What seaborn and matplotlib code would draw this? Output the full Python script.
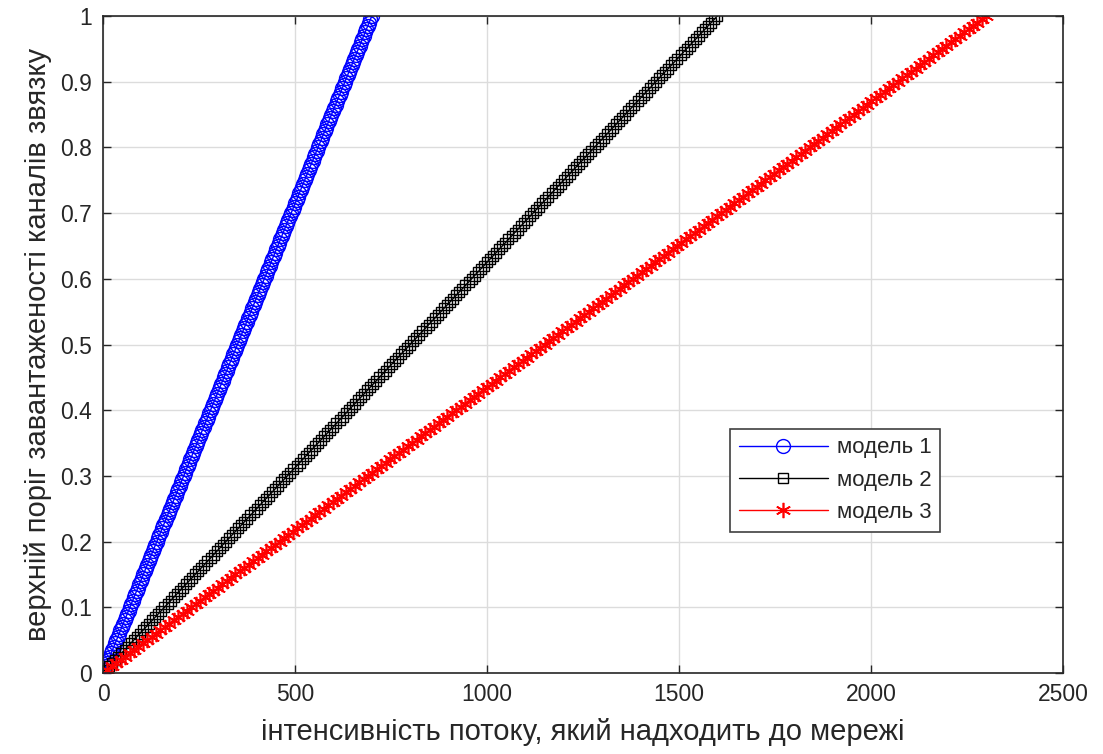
import matplotlib
matplotlib.use("Agg")
import matplotlib.pyplot as plt
import seaborn as sns
import pandas as pd

# ---- data ----
load = [
    0.005, 0.01, 0.015, 0.02, 0.025, 0.03, 0.035, 0.04, 0.045, 0.05,
    0.055, 0.06, 0.065, 0.07, 0.075, 0.08, 0.085, 0.09, 0.095, 0.1,
    0.105, 0.11, 0.115, 0.12, 0.125, 0.13, 0.135, 0.14, 0.145, 0.15,
    0.155, 0.16, 0.165, 0.17, 0.175, 0.18, 0.185, 0.19, 0.195, 0.2,
    0.205, 0.21, 0.215, 0.22, 0.225, 0.23, 0.235, 0.24, 0.245, 0.25,
    0.255, 0.26, 0.265, 0.27, 0.275, 0.28, 0.285, 0.29, 0.295, 0.3,
    0.305, 0.31, 0.315, 0.32, 0.325, 0.33, 0.335, 0.34, 0.345, 0.35,
    0.355, 0.36, 0.365, 0.37, 0.375, 0.38, 0.385, 0.39, 0.395, 0.4,
    0.405, 0.41, 0.415, 0.42, 0.425, 0.43, 0.435, 0.44, 0.445, 0.45,
    0.455, 0.46, 0.465, 0.47, 0.475, 0.48, 0.485, 0.49, 0.495, 0.5,
    0.505, 0.51, 0.515, 0.52, 0.525, 0.53, 0.535, 0.54, 0.545, 0.55,
    0.555, 0.56, 0.565, 0.57, 0.575, 0.58, 0.585, 0.59, 0.595, 0.6,
    0.605, 0.61, 0.615, 0.62, 0.625, 0.63, 0.635, 0.64, 0.645, 0.65,
    0.655, 0.66, 0.665, 0.67, 0.675, 0.68, 0.685, 0.69, 0.695, 0.7,
    0.705, 0.71, 0.715, 0.72, 0.725, 0.73, 0.735, 0.74, 0.745, 0.75,
    0.755, 0.76, 0.765, 0.77, 0.775, 0.78, 0.785, 0.79, 0.795, 0.8,
    0.805, 0.81, 0.815, 0.82, 0.825, 0.83, 0.835, 0.84, 0.845, 0.85,
    0.855, 0.86, 0.865, 0.87, 0.875, 0.88, 0.885, 0.89, 0.895, 0.9,
    0.905, 0.91, 0.915, 0.92, 0.925, 0.93, 0.935, 0.94, 0.945, 0.95,
    0.955, 0.96, 0.965, 0.97, 0.975, 0.98, 0.985, 0.99, 0.995, 1.0,
]

flow_model1 = [
    3.5, 7, 10.5, 14, 17.5, 21, 24.5, 28, 31.5, 35,
    38.5, 42, 45.5, 49, 52.5, 56, 59.5, 63, 66.5, 70,
    73.5, 77, 80.5, 84, 87.5, 91, 94.5, 98, 101.5, 105,
    108.5, 112, 115.5, 119, 122.5, 126, 129.5, 133, 136.5, 140,
    143.5, 147, 150.5, 154, 157.5, 161, 164.5, 168, 171.5, 175,
    178.5, 182, 185.5, 189, 192.5, 196, 199.5, 203, 206.5, 210,
    213.5, 217, 220.5, 224, 227.5, 231, 234.5, 238, 241.5, 245,
    248.5, 252, 255.5, 259, 262.5, 266, 269.5, 273, 276.5, 280,
    283.5, 287, 290.5, 294, 297.5, 301, 304.5, 308, 311.5, 315,
    318.5, 322, 325.5, 329, 332.5, 336, 339.5, 343, 346.5, 350,
    353.5, 357, 360.5, 364, 367.5, 371, 374.5, 378, 381.5, 385,
    388.5, 392, 395.5, 399, 402.5, 406, 409.5, 413, 416.5, 420,
    423.5, 427, 430.5, 434, 437.5, 441, 444.5, 448, 451.5, 455,
    458.5, 462, 465.5, 469, 472.5, 476, 479.5, 483, 486.5, 490,
    493.5, 497, 500.5, 504, 507.5, 511, 514.5, 518, 521.5, 525,
    528.5, 532, 535.5, 539, 542.5, 546, 549.5, 553, 556.5, 560,
    563.5, 567, 570.5, 574, 577.5, 581, 584.5, 588, 591.5, 595,
    598.5, 602, 605.5, 609, 612.5, 616, 619.5, 623, 626.5, 630,
    633.5, 637, 640.5, 644, 647.5, 651, 654.5, 658, 661.5, 665,
    668.5, 672, 675.5, 679, 682.5, 686, 689.5, 693, 696.5, 700,
]

flow_model2 = [
    8, 16, 24, 32, 40, 48, 56, 64, 72, 80,
    88, 96, 104, 112, 120, 128, 136, 144, 152, 160,
    168, 176, 184, 192, 200, 208, 216, 224, 232, 240,
    248, 256, 264, 272, 280, 288, 296, 304, 312, 320,
    328, 336, 344, 352, 360, 368, 376, 384, 392, 400,
    408, 416, 424, 432, 440, 448, 456, 464, 472, 480,
    488, 496, 504, 512, 520, 528, 536, 544, 552, 560,
    568, 576, 584, 592, 600, 608, 616, 624, 632, 640,
    648, 656, 664, 672, 680, 688, 696, 704, 712, 720,
    728, 736, 744, 752, 760, 768, 776, 784, 792, 800,
    808, 816, 824, 832, 840, 848, 856, 864, 872, 880,
    888, 896, 904, 912, 920, 928, 936, 944, 952, 960,
    968, 976, 984, 992, 1000, 1008, 1016, 1024, 1032, 1040,
    1048, 1056, 1064, 1072, 1080, 1088, 1096, 1104, 1112, 1120,
    1128, 1136, 1144, 1152, 1160, 1168, 1176, 1184, 1192, 1200,
    1208, 1216, 1224, 1232, 1240, 1248, 1256, 1264, 1272, 1280,
    1288, 1296, 1304, 1312, 1320, 1328, 1336, 1344, 1352, 1360,
    1368, 1376, 1384, 1392, 1400, 1408, 1416, 1424, 1432, 1440,
    1448, 1456, 1464, 1472, 1480, 1488, 1496, 1504, 1512, 1520,
    1528, 1536, 1544, 1552, 1560, 1568, 1576, 1584, 1592, 1600,
]

flow_model3 = [
    11.5, 23, 34.5, 46, 57.5, 69, 80.5, 92, 103.5, 115,
    126.5, 138, 149.5, 161, 172.5, 184, 195.5, 207, 218.5, 230,
    241.5, 253, 264.5, 276, 287.5, 299, 310.5, 322, 333.5, 345,
    356.5, 368, 379.5, 391, 402.5, 414, 425.5, 437, 448.5, 460,
    471.5, 483, 494.5, 506, 517.5, 529, 540.5, 552, 563.5, 575,
    586.5, 598, 609.5, 621, 632.5, 644, 655.5, 667, 678.5, 690,
    701.5, 713, 724.5, 736, 747.5, 759, 770.5, 782, 793.5, 805,
    816.5, 828, 839.5, 851, 862.5, 874, 885.5, 897, 908.5, 920,
    931.5, 943, 954.5, 966, 977.5, 989, 1000.5, 1012, 1023.5, 1035,
    1046.5, 1058, 1069.5, 1081, 1092.5, 1104, 1115.5, 1127, 1138.5, 1150,
    1161.5, 1173, 1184.5, 1196, 1207.5, 1219, 1230.5, 1242, 1253.5, 1265,
    1276.5, 1288, 1299.5, 1311, 1322.5, 1334, 1345.5, 1357, 1368.5, 1380,
    1391.5, 1403, 1414.5, 1426, 1437.5, 1449, 1460.5, 1472, 1483.5, 1495,
    1506.5, 1518, 1529.5, 1541, 1552.5, 1564, 1575.5, 1587, 1598.5, 1610,
    1621.5, 1633, 1644.5, 1656, 1667.5, 1679, 1690.5, 1702, 1713.5, 1725,
    1736.5, 1748, 1759.5, 1771, 1782.5, 1794, 1805.5, 1817, 1828.5, 1840,
    1851.5, 1863, 1874.5, 1886, 1897.5, 1909, 1920.5, 1932, 1943.5, 1955,
    1966.5, 1978, 1989.5, 2001, 2012.5, 2024, 2035.5, 2047, 2058.5, 2070,
    2081.5, 2093, 2104.5, 2116, 2127.5, 2139, 2150.5, 2162, 2173.5, 2185,
    2196.5, 2208, 2219.5, 2231, 2242.5, 2254, 2265.5, 2277, 2288.5, 2300,
]

series_labels = ["модель 1", "модель 2", "модель 3"]
x_ticks = [0, 500, 1000, 1500, 2000, 2500]
y_ticks = [0, 0.1, 0.2, 0.3, 0.4, 0.5, 0.6, 0.7, 0.8, 0.9, 1]
y_tick_labels = ["0", "0.1", "0.2", "0.3", "0.4", "0.5", "0.6", "0.7", "0.8", "0.9", "1"]
x_label = "інтенсивність потоку, який надходить до мережі"
y_label = "верхній поріг завантаженості каналів звязку"

# ---- style ----
sns.set_theme(style="white")
plt.rcParams['font.family'] = ['Liberation Sans', 'DejaVu Sans']
text_color = "#262626"

fig = plt.figure(figsize=(11.03, 7.54), dpi=100)
ax = fig.add_axes([0.0934, 0.1074, 0.8703, 0.8714])

styles = [
    dict(color="blue", marker="o", markersize=10, markerfacecolor="none",
         markeredgecolor="blue", markeredgewidth=1.0),
    dict(color="black", marker="s", markersize=7, markerfacecolor="none",
         markeredgecolor="black", markeredgewidth=1.0),
    dict(color="red", marker=(6, 2, 0), markersize=11, markerfacecolor="red",
         markeredgecolor="red", markeredgewidth=1.2),
]
flows = [flow_model1, flow_model2, flow_model3]
for fl, lab, st in zip(flows, series_labels, styles):
    df = pd.DataFrame({"x": fl, "y": load})
    sns.lineplot(data=df, x="x", y="y", ax=ax, label=lab, linewidth=1.0,
                 sort=False, estimator=None, **st)

ax.set_xlim(0, 2500)
ax.set_ylim(0, 1)
ax.set_xticks(x_ticks)
ax.set_xticklabels([str(t) for t in x_ticks])
ax.set_yticks(y_ticks)
ax.set_yticklabels(y_tick_labels)

ax.grid(True, color="#dcdcdc", linewidth=1.0)
ax.set_axisbelow(True)
for sp in ax.spines.values():
    sp.set_visible(True)
    sp.set_color(text_color)
    sp.set_linewidth(1.2)

ax.tick_params(axis="both", direction="in", length=6, width=1.0, colors=text_color,
               labelsize=16.5, top=True, right=True, bottom=True, left=True,
               labelcolor=text_color)
ax.tick_params(axis="x", pad=7)
ax.tick_params(axis="y", pad=8)

ax.set_xlabel(x_label, fontsize=21, color=text_color, labelpad=9)
ax.set_ylabel(y_label, fontsize=21, color=text_color, labelpad=6)

leg = ax.legend(loc="upper left", bbox_to_anchor=(0.653, 0.372), fontsize=16,
                handlelength=4.0, frameon=True, fancybox=False, framealpha=1,
                edgecolor="#404040", borderpad=0.4, labelspacing=0.5,
                handletextpad=0.4, borderaxespad=0)
leg.get_frame().set_linewidth(1.2)
for t in leg.get_texts():
    t.set_color(text_color)

fig.savefig("out.png", dpi=100)
